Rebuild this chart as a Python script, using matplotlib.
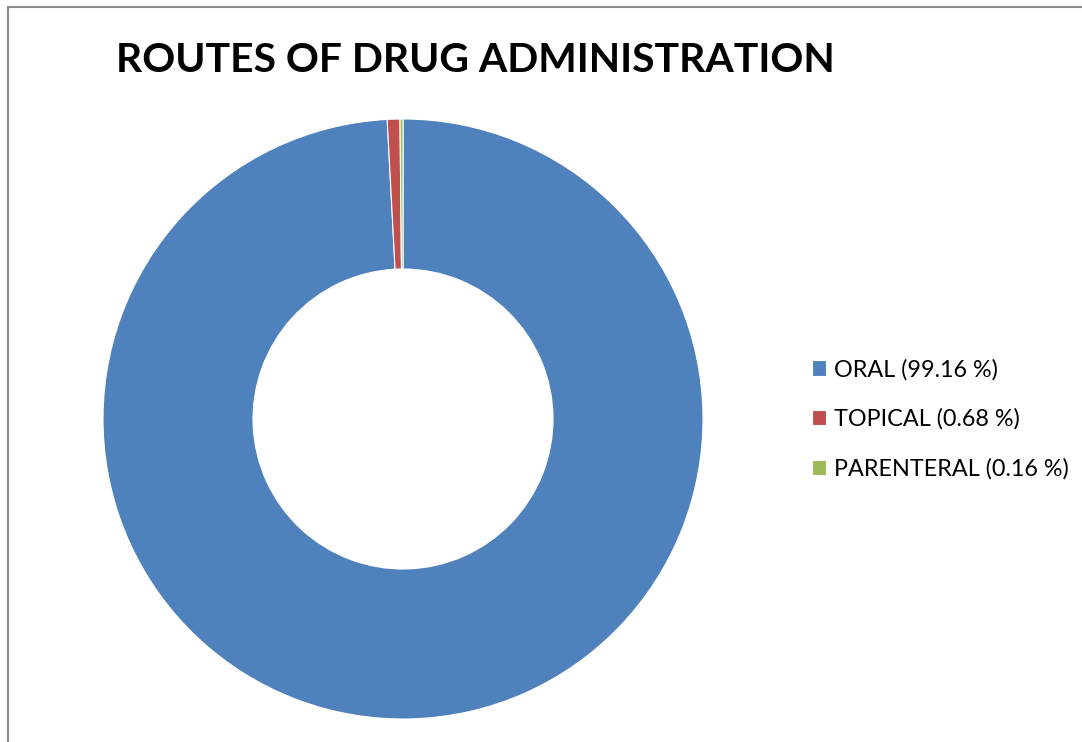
import matplotlib.pyplot as plt
from matplotlib.patches import Rectangle

labels = ['ORAL (99.16 %)', 'TOPICAL (0.68 %)', 'PARENTERAL (0.16 %)']
values = [99.16, 0.68, 0.16]
colors = ['#4F81BD', '#C0504D', '#9BBB59']

plt.rcParams['font.family'] = ['Lato', 'DejaVu Sans']

fig = plt.figure(figsize=(10.82, 7.42), dpi=100)
W, H = 1082, 742

# chart area frame (cut off at right and bottom)
fig.patches.append(Rectangle((8 / W, -0.05), 1.2, 1 - 7 / H + 0.05,
                             transform=fig.transFigure, fill=False,
                             edgecolor='#8c8c8c', linewidth=1.5))

ax = fig.add_axes([103 / W, (H - 719) / H, 600 / W, 600 / H])
wedges, _ = ax.pie(values, colors=colors, startangle=90, counterclock=False,
                   radius=1, wedgeprops=dict(width=0.5, edgecolor='white', linewidth=0.8))
ax.set_xlim(-1, 1)
ax.set_ylim(-1, 1)
ax.set_aspect('equal')

fig.text(116 / W, 1 - 60 / H, 'ROUTES OF DRUG ADMINISTRATION', fontsize=29.4,
         fontweight='bold', va='center', ha='left')

fig.legend(wedges, labels, loc='center left', bbox_to_anchor=(800 / W, 1 - 419 / H),
           frameon=False, fontsize=16.8, handlelength=0.62, handleheight=0.62,
           handletextpad=0.33, labelspacing=1.2, borderpad=0)

fig.savefig('out.png', dpi=100)
